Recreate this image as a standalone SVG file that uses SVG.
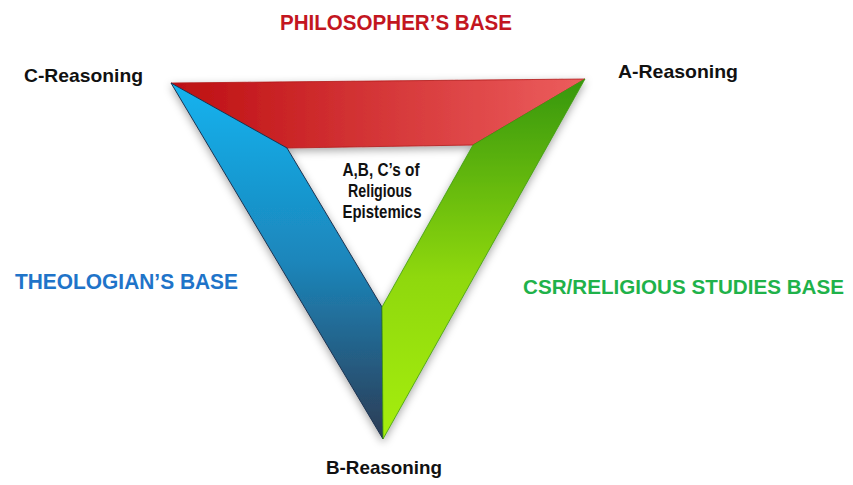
<svg xmlns="http://www.w3.org/2000/svg" width="853" height="485" viewBox="0 0 853 485">
  <style>
    .lbl { font-family: "Liberation Sans", Arial, sans-serif; font-weight: bold; }
    .vertex { font-size: 19px; fill: #111; }
    .base { font-size: 22px; }
    .base-long { font-size: 20px; }
    .core { font-size: 17.5px; fill: #111; text-anchor: middle; }
  </style>
  <defs>
    <linearGradient id="gRed" x1="171" y1="0" x2="585" y2="0" gradientUnits="userSpaceOnUse">
      <stop offset="0" stop-color="#bd0f12"/>
      <stop offset="1" stop-color="#ec5d5d"/>
    </linearGradient>
    <linearGradient id="gBlue" x1="0" y1="83" x2="0" y2="439" gradientUnits="userSpaceOnUse">
      <stop offset="0" stop-color="#12b3ef"/>
      <stop offset="0.5" stop-color="#1c86bb"/>
      <stop offset="1" stop-color="#2c3c55"/>
    </linearGradient>
    <linearGradient id="gGreen" x1="0" y1="79" x2="0" y2="439" gradientUnits="userSpaceOnUse">
      <stop offset="0" stop-color="#36960c"/>
      <stop offset="0.55" stop-color="#8fd80a"/>
      <stop offset="1" stop-color="#a6ee0a"/>
    </linearGradient>
    <filter id="shadow" x="-20%" y="-20%" width="140%" height="140%">
      <feDropShadow dx="0" dy="3" stdDeviation="4" flood-color="#000" flood-opacity="0.35"/>
    </filter>
  </defs>

  <!-- Three bands forming the triangle -->
  <g filter="url(#shadow)">
    <g id="philosopher-band">
      <polygon points="171,83 585,79 473,145 287,148" fill="url(#gRed)" stroke="#b01a1a" stroke-width="0.8" stroke-linejoin="round"/>
    </g>
    <g id="theologian-band">
      <polygon points="171,83 287,148 382,307 383,439" fill="url(#gBlue)" stroke="#1d3350" stroke-width="1" stroke-linejoin="round"/>
    </g>
    <g id="csr-band">
      <polygon points="585,79 383,439 382,307 473,145" fill="url(#gGreen)" stroke="#3e9a10" stroke-width="0.8" stroke-linejoin="round"/>
    </g>
  </g>

  <!-- Vertex labels -->
  <g id="c-reasoning"><text class="lbl vertex" x="24" y="82" textLength="119" lengthAdjust="spacingAndGlyphs">C-Reasoning</text></g>
  <g id="a-reasoning"><text class="lbl vertex" x="618" y="78" textLength="120" lengthAdjust="spacingAndGlyphs">A-Reasoning</text></g>
  <g id="b-reasoning"><text class="lbl vertex" x="326" y="474" textLength="116" lengthAdjust="spacingAndGlyphs">B-Reasoning</text></g>

  <!-- Base labels -->
  <g id="philosophers-base"><text class="lbl base" x="280" y="30" fill="#c3161f" textLength="232" lengthAdjust="spacingAndGlyphs">PHILOSOPHER’S BASE</text></g>
  <g id="theologians-base"><text class="lbl base" x="15" y="289" fill="#1f74c9" textLength="223" lengthAdjust="spacingAndGlyphs">THEOLOGIAN’S BASE</text></g>
  <g id="csr-base"><text class="lbl base-long" x="523" y="294" fill="#1fb24a" textLength="321" lengthAdjust="spacingAndGlyphs">CSR/RELIGIOUS STUDIES BASE</text></g>

  <!-- Centre label -->
  <g id="core">
    <text class="lbl core" x="381" y="176" textLength="77" lengthAdjust="spacingAndGlyphs">A,B, C’s of</text>
    <text class="lbl core" x="380" y="197" textLength="64" lengthAdjust="spacingAndGlyphs">Religious</text>
    <text class="lbl core" x="382" y="218" textLength="79" lengthAdjust="spacingAndGlyphs">Epistemics</text>
  </g>
</svg>
